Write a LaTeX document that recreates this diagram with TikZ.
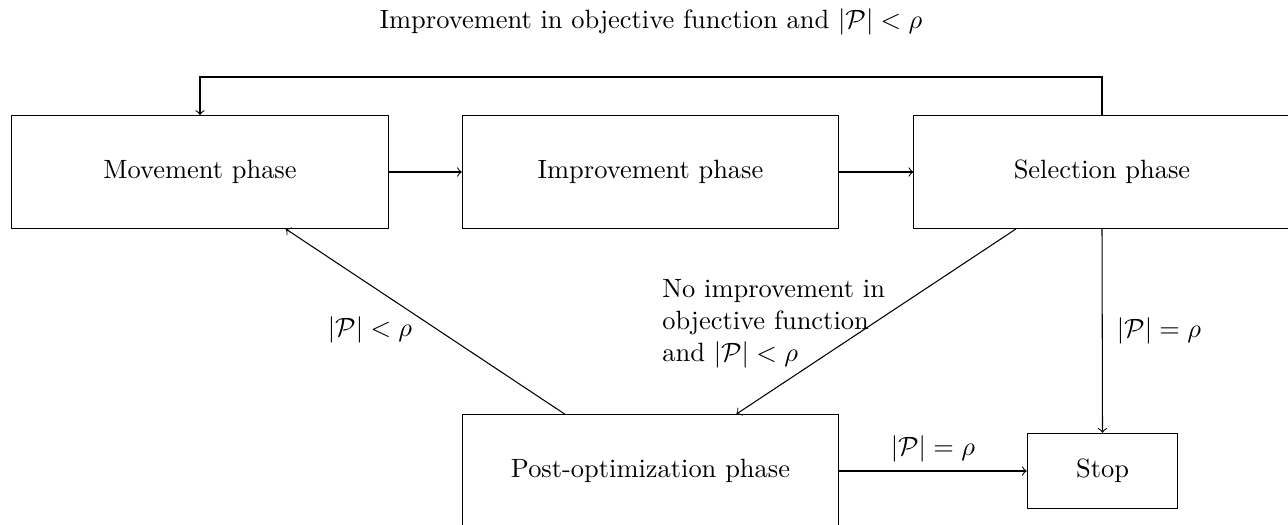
\documentclass[tikz,border=0pt]{standalone}
\usepackage{amsmath}
\begin{document}
\begin{tikzpicture}[x=0.013298cm, y=-0.013298cm,
  phase/.style={draw, minimum width=5cm, minimum height=1.5cm},
  stopbox/.style={draw, minimum width=2cm, minimum height=1cm},
  flow/.style={->}]
\useasboundingbox (0,0) rectangle (1288,525);

\node[phase] (mov)  at (200,172)    {Movement phase};
\node[phase] (imp)  at (650.5,172)  {Improvement phase};
\node[phase] (sel)  at (1102,172)   {Selection phase};
\node[phase] (post) at (650.5,471)  {Post-optimization phase};
\node[stopbox] (stop) at (1102.5,471) {Stop};

\coordinate (tr) at (1102,77);
\coordinate (tl) at (200,77);

\draw[flow] (mov) -- (imp);
\draw[flow] (imp) -- (sel);
\draw[flow] (sel.north) -- (tr) -- (tl) -- (mov.north);
\node (toplbl) at (651,22) {Improvement in objective function and $|\mathcal{P}|<\rho$};

\draw[flow] (sel.south) -- node[right, xshift=2pt] {$|\mathcal{P}|=\rho$} (stop.north);
\draw[flow] (sel) -- (post);
\node[align=left, anchor=west] (nolbl) at (653,324)
  {No improvement in\\ objective function\\ and $|\mathcal{P}|<\rho$};
\draw[flow] (post) -- (mov);
\node (lbl) at (370,330) {$|\mathcal{P}|<\rho$};
\draw[flow] (post) -- node[above] {$|\mathcal{P}|=\rho$} (stop);
\end{tikzpicture}
\end{document}
